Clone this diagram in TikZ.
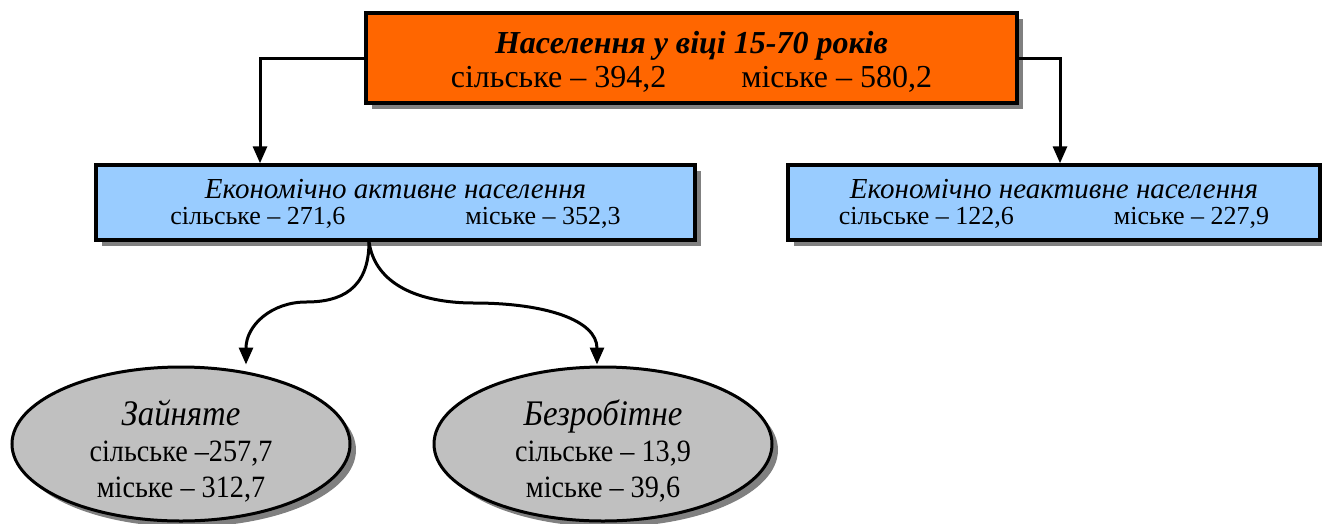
\documentclass[tikz,border=0pt]{standalone}
\usepackage{fontspec}
\setmainfont{Liberation Serif}
\newfontfamily\narrowserif[FakeStretch=0.91]{Liberation Serif}
\usetikzlibrary{shadows,arrows.meta,shapes.geometric}
\definecolor{orangefill}{HTML}{FF6600}
\definecolor{bluefill}{HTML}{99CCFF}
\definecolor{grayfill}{HTML}{C0C0C0}
\definecolor{shadowgray}{HTML}{808080}
\tikzset{
  shade3d/.style={drop shadow={shadow xshift=6pt,shadow yshift=-6pt,fill=shadowgray,opacity=1}},
  boxnode/.style={draw=black,line width=3.4pt,rectangle,inner sep=0pt,shade3d},
  ellnode/.style={draw=black,line width=3pt,ellipse,inner sep=0pt,fill=grayfill,
     minimum width=338pt,minimum height=154pt,shade3d},
  txt/.style={inner sep=0pt,align=center},
  elltxt/.style={txt,font=\narrowserif\fontsize{31}{36}\selectfont},
  arr/.style={draw=black,line width=3pt,-{Triangle[length=17pt,width=14pt]}}
}
\begin{document}
\begin{tikzpicture}[x=1pt,y=-1pt]
\useasboundingbox (0,0) rectangle (1322,523);
\node[boxnode,fill=orangefill,minimum width=651pt,minimum height=90pt] (pop) at (691.5,58) {};
\node[txt,font=\fontsize{32}{34}\selectfont] (poptxt) at ([yshift=-4pt]pop.center)
  {\textbf{\textit{Населення у віці 15-70 років}}\\
   сільське – 394,2\hspace{75pt}міське – 580,2};
\node[boxnode,fill=bluefill,minimum width=599pt,minimum height=75pt] (act) at (395.5,202.5) {};
\node[txt,font=\fontsize{26}{26}\selectfont] (acttxt) at ([yshift=-1pt]act.center)
  {{\fontsize{29}{26}\selectfont\textit{Економічно активне населення}}\\
   сільське – 271,6\hspace{120pt}міське – 352,3};
\node[boxnode,fill=bluefill,minimum width=532pt,minimum height=75pt] (inact) at (1054,202.5) {};
\node[txt,font=\fontsize{26}{26}\selectfont] (inacttxt) at ([yshift=-1pt]inact.center)
  {{\fontsize{29}{26}\selectfont\textit{Економічно неактивне населення}}\hspace{10pt}\\
   сільське – 122,6\hspace{100pt}міське – 227,9};
\node[ellnode] (emp) at (181,444) {};
\node[elltxt] (emptxt) at ([yshift=-7pt]emp.center)
  {{\fontsize{36}{36}\selectfont\textit{Зайняте}}\\ сільське –257,7\\ міське – 312,7};
\node[ellnode] (unemp) at (603,444) {};
\node[elltxt] (unemptxt) at ([yshift=-7pt]unemp.center)
  {{\fontsize{36}{36}\selectfont\textit{Безробітне}}\\ сільське – 13,9\\ міське – 39,6};
\draw[arr] (pop.west) -| ([xshift=-135.5pt]act.north);
\draw[arr] (pop.east) -| ([xshift=6pt]inact.north);
\coordinate (bendL) at (306,302);
\coordinate (bendR) at (474,303);
\draw[arr] ([xshift=-26.5pt]act.south) .. controls (369,290) and (340,302) .. (bendL)
   .. controls (272,302) and (246,325) .. ([xshift=65pt,yshift=1pt]emp.north);
\draw[arr] ([xshift=-26.5pt]act.south) .. controls (375,285) and (420,303) .. (bendR)
   .. controls (545,303) and (597,320) .. ([xshift=-6pt,yshift=1pt]unemp.north);
\end{tikzpicture}
\end{document}
